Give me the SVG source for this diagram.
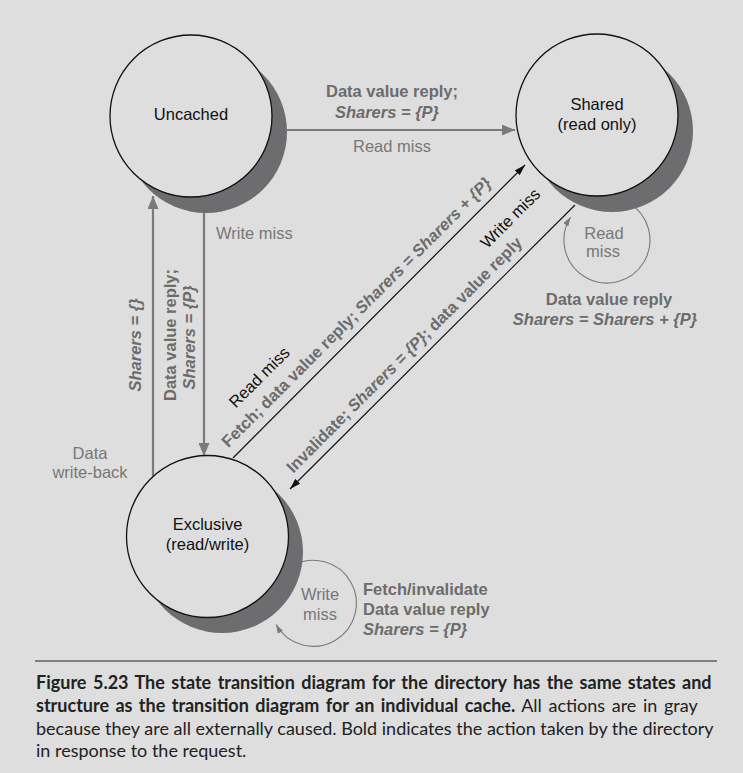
<svg xmlns="http://www.w3.org/2000/svg" width="743" height="773" viewBox="0 0 743 773">
<style>
  .bg { fill: #dedede; }
  .shadow { fill: #6d6d6f; }
  .state { fill: #dedede; stroke: #111; stroke-width: 1.3; }
  .stxt { font-family: "Liberation Sans", Arial, sans-serif; font-size: 16.5px; fill: #111; text-anchor: middle; }
  .gline { stroke: #7a7a7a; stroke-width: 2.2; fill: none; }
  .bline { stroke: #111; stroke-width: 1.2; fill: none; }
  .loop { stroke: #7a7a7a; stroke-width: 1.1; fill: none; }
  .lbl { font-family: "Liberation Sans", Arial, sans-serif; font-size: 16.5px; fill: #777; }
  .blbl { font-family: "Liberation Sans", Arial, sans-serif; font-size: 16.5px; fill: #6c6c6c; font-weight: bold; }
  .klbl { font-family: "Liberation Sans", Arial, sans-serif; font-size: 16.5px; fill: #111; }
  .it { font-style: italic; }
  .mid { text-anchor: middle; }
  .cap { font-family: Lato, "Open Sans", "Liberation Sans", sans-serif; font-size: 18px; fill: #222; }
  .capb { font-weight: bold; }
</style>
<defs>
  <marker id="gArrow" markerUnits="userSpaceOnUse" markerWidth="13" markerHeight="11" refX="13" refY="5.5" orient="auto">
    <path d="M0,0 L13,5.5 L0,11 z" fill="#7a7a7a"/>
  </marker>
  <marker id="bArrow" markerUnits="userSpaceOnUse" markerWidth="11" markerHeight="7" refX="11" refY="3.5" orient="auto">
    <path d="M0,0 L11,3.5 L0,7 z" fill="#111"/>
  </marker>
  <marker id="lArrow" markerUnits="userSpaceOnUse" markerWidth="9" markerHeight="6" refX="9" refY="3" orient="auto">
    <path d="M0,0 L9,3 L0,6 z" fill="#7a7a7a"/>
  </marker>
</defs>
<rect class="bg" x="0" y="0" width="743" height="773"/>

<g id="connectors">
  <line class="gline" x1="287" y1="130" x2="515" y2="130" marker-end="url(#gArrow)"/>
  <line class="gline" x1="153" y1="476" x2="153" y2="196" marker-end="url(#gArrow)"/>
  <line class="gline" x1="204" y1="213" x2="204" y2="456" marker-end="url(#gArrow)"/>
  <line class="bline" x1="233" y1="458" x2="525" y2="165" marker-end="url(#bArrow)"/>
  <line class="bline" x1="575" y1="205" x2="290" y2="489" marker-end="url(#bArrow)"/>
  <path class="loop" d="M628.5,202.8 A43,43 0 1 1 570.5,217.2" marker-end="url(#lArrow)"/>
  <path class="loop" d="M292,566 A43,43 0 1 1 276,624.5" marker-end="url(#lArrow)"/>
</g>

<g id="uncached">
  <circle class="shadow" cx="206" cy="132" r="81"/>
  <circle class="state" cx="191" cy="116" r="81"/>
  <text class="stxt" x="191" y="120">Uncached</text>
</g>
<g id="shared">
  <circle class="shadow" cx="612" cy="131" r="81"/>
  <circle class="state" cx="597" cy="115" r="81"/>
  <text class="stxt" x="597" y="110">Shared</text>
  <text class="stxt" x="597" y="130">(read only)</text>
</g>
<g id="exclusive">
  <circle class="shadow" cx="222" cy="552" r="81"/>
  <circle class="state" cx="207.5" cy="536.5" r="81"/>
  <text class="stxt" x="207.5" y="530">Exclusive</text>
  <text class="stxt" x="207.5" y="550">(read/write)</text>
</g>

<g id="labels">
  <text class="blbl mid" x="392" y="97">Data value reply;</text>
  <text class="blbl it mid" x="387" y="118">Sharers = {P}</text>
  <text class="lbl mid" x="392" y="152">Read miss</text>

  <text class="lbl" x="216" y="239">Write miss</text>
  <text class="lbl mid" x="90" y="459">Data</text>
  <text class="lbl mid" x="90" y="477.5">write-back</text>

  <text class="blbl it mid" transform="translate(140.5,345) rotate(-90)">Sharers = {}</text>
  <text class="blbl mid" transform="translate(176,335) rotate(-90)">Data value reply;</text>
  <text class="blbl it mid" transform="translate(195,337.5) rotate(-90)">Sharers = {P}</text>

  <text class="klbl mid" transform="translate(259,377) rotate(-45)" y="6">Read miss</text>
  <text class="blbl mid" transform="translate(356,312) rotate(-45)" y="6">Fetch; data value reply; <tspan class="it">Sharers = Sharers + {P}</tspan></text>
  <text class="klbl mid" transform="translate(510,218) rotate(-45)" y="6">Write miss</text>
  <text class="blbl mid" transform="translate(404,354.5) rotate(-45)" y="6">Invalidate; <tspan class="it">Sharers = {P}</tspan>; data value reply</text>

  <text class="lbl mid" x="604" y="239">Read</text>
  <text class="lbl mid" x="603" y="257">miss</text>
  <text class="blbl mid" x="609" y="305">Data value reply</text>
  <text class="blbl it mid" x="605" y="325">Sharers = Sharers + {P}</text>

  <text class="lbl mid" x="320" y="600">Write</text>
  <text class="lbl mid" x="320" y="620">miss</text>
  <text class="blbl" x="363" y="595">Fetch/invalidate</text>
  <text class="blbl" x="363" y="615">Data value reply</text>
  <text class="blbl it" x="363" y="635">Sharers = {P}</text>
</g>

<g id="caption">
  <line x1="35" y1="661" x2="717" y2="661" stroke="#222" stroke-width="1.2"/>
  <text class="cap capb" x="36" y="689" word-spacing="2.1">Figure 5.23  The state transition diagram for the directory has the same states and</text>
  <text class="cap" x="36" y="712" word-spacing="2"><tspan class="capb">structure as the transition diagram for an individual cache.</tspan> All actions are in gray</text>
  <text class="cap" x="36" y="735">because they are all externally caused. Bold indicates the action taken by the directory</text>
  <text class="cap" x="36" y="757">in response to the request.</text>
</g>
</svg>
